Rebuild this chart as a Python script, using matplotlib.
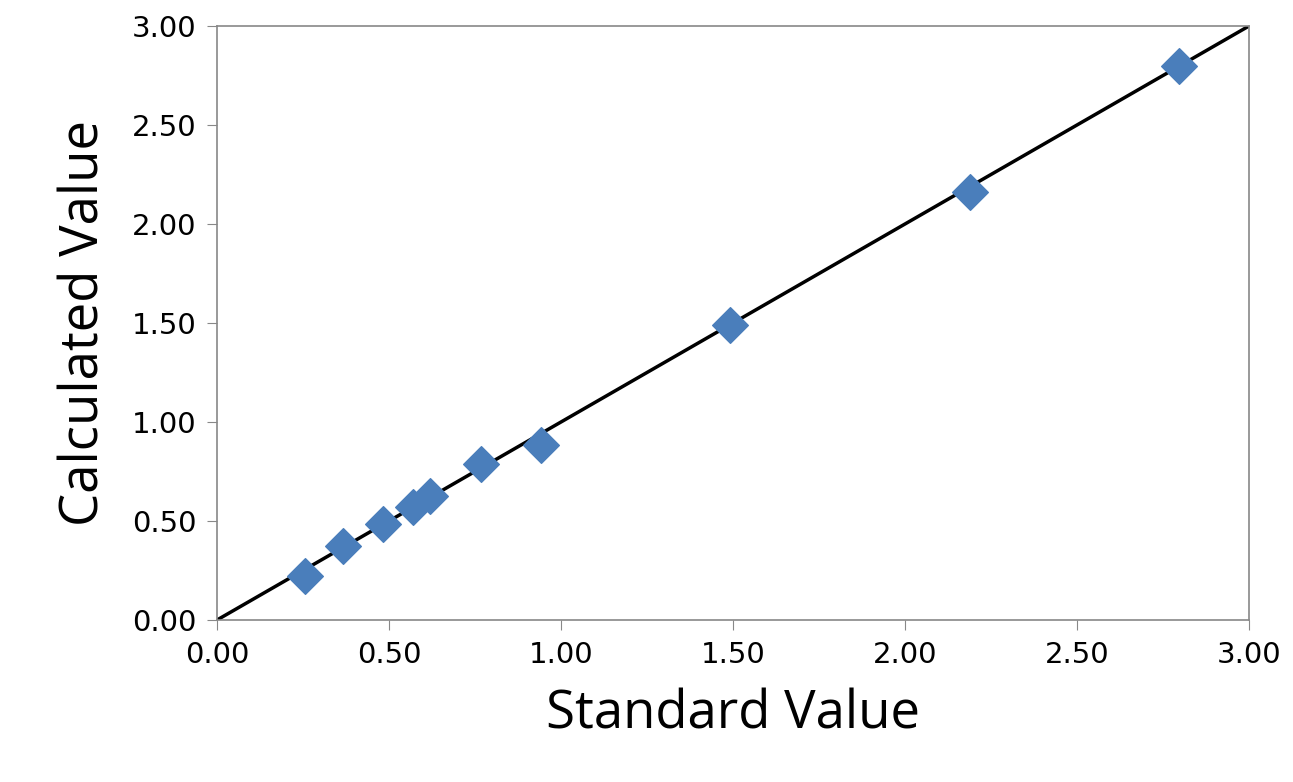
import matplotlib
matplotlib.use("Agg")
from matplotlib import pyplot as plt

standard = [0.256, 0.366, 0.483, 0.570, 0.619, 0.767, 0.942, 1.491, 2.189, 2.797]
calculated = [0.222, 0.374, 0.485, 0.571, 0.626, 0.788, 0.884, 1.490, 2.162, 2.798]
ticks = [0.0, 0.5, 1.0, 1.5, 2.0, 2.5, 3.0]

fig = plt.figure(figsize=(12.93, 7.82), dpi=100)
ax = fig.add_axes([217/1293, 1-620/782, (1249-217)/1293, (620-26)/782])

ax.plot([0, 3], [0, 3], color="black", lw=2.5, zorder=2)
ax.scatter(standard, calculated, marker="D", s=330, color="#4a7ebb", zorder=3)

ax.set_xlim(0, 3)
ax.set_ylim(0, 3)
ax.set_xticks(ticks)
ax.set_yticks(ticks)
ax.set_xticklabels([f"{t:.2f}" for t in ticks], fontsize=21, family="DejaVu Sans")
ax.set_yticklabels([f"{t:.2f}" for t in ticks], fontsize=21, family="DejaVu Sans")
for s in ax.spines.values():
    s.set_color("#888888")
    s.set_linewidth(1.2)
ax.tick_params(direction="out", length=7, color="#888888", pad=8)

ax.set_xlabel("Standard Value", fontsize=38, family="Open Sans", labelpad=14)
ax.set_ylabel("Calculated Value", fontsize=38, family="Open Sans", labelpad=14)

fig.savefig("out.png")
